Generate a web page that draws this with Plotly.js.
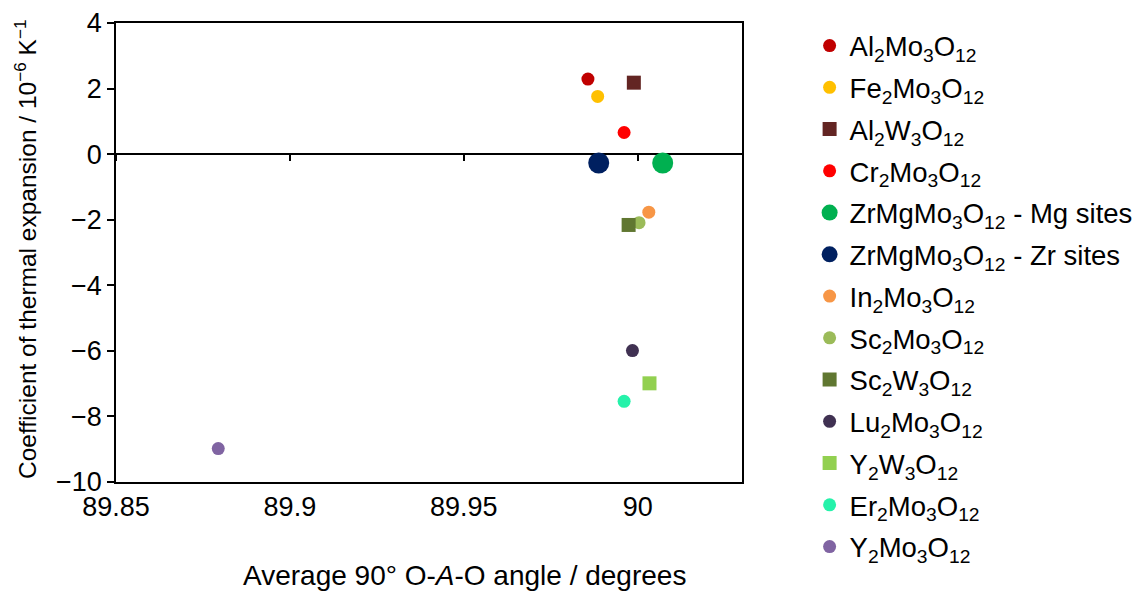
<!DOCTYPE html>
<html>
<head>
<meta charset="utf-8">
<script src="https://cdn.plot.ly/plotly-3.0.1.min.js"></script>
<style>html,body{margin:0;padding:0;background:#fff;}#chart{width:1133px;height:596px;}</style>
</head>
<body>
<div id="chart"></div>
<script>
// Series data
const names = [
  "Al<sub>2</sub>Mo<sub>3</sub>O<sub>12</sub>",
  "Fe<sub>2</sub>Mo<sub>3</sub>O<sub>12</sub>",
  "Al<sub>2</sub>W<sub>3</sub>O<sub>12</sub>",
  "Cr<sub>2</sub>Mo<sub>3</sub>O<sub>12</sub>",
  "ZrMgMo<sub>3</sub>O<sub>12</sub> - Mg sites",
  "ZrMgMo<sub>3</sub>O<sub>12</sub> - Zr sites",
  "In<sub>2</sub>Mo<sub>3</sub>O<sub>12</sub>",
  "Sc<sub>2</sub>Mo<sub>3</sub>O<sub>12</sub>",
  "Sc<sub>2</sub>W<sub>3</sub>O<sub>12</sub>",
  "Lu<sub>2</sub>Mo<sub>3</sub>O<sub>12</sub>",
  "Y<sub>2</sub>W<sub>3</sub>O<sub>12</sub>",
  "Er<sub>2</sub>Mo<sub>3</sub>O<sub>12</sub>",
  "Y<sub>2</sub>Mo<sub>3</sub>O<sub>12</sub>"
];
const angles = [89.9857, 89.9885, 89.9989, 89.9961, 90.0072, 89.9888, 90.0032, 90.0004, 89.9974, 89.9985, 90.0034, 89.9961, 89.8794];
const cte    = [2.29, 1.76, 2.18, 0.66, -0.27, -0.27, -1.77, -2.09, -2.16, -5.99, -6.99, -7.54, -8.98];
const colors = ["#C00000", "#FFC000", "#632523", "#FF0000", "#00B050", "#002060", "#F79646", "#9BBB59", "#607731", "#403152", "#92D050", "#25F2AA", "#8064A2"];
const symbols = ["circle", "circle", "square", "circle", "circle", "circle", "circle", "circle", "square", "circle", "square", "circle", "circle"];
const sizes = [13, 13, 14, 13, 21, 21, 13, 13, 14, 13, 14, 13, 13];
const xTicks = [89.85, 89.9, 89.95, 90];
const yTicks = [-10, -8, -6, -4, -2, 0, 2, 4];

const FONT = "Liberation Sans, Arial, sans-serif";

const traces = names.map((n, i) => ({
  type: "scatter",
  mode: "markers",
  name: n,
  legendgroup: "g" + i,
  x: [angles[i]],
  y: [cte[i]],
  marker: {color: colors[i], symbol: symbols[i], size: sizes[i], line: {width: 0}},
  hoverinfo: "name+x+y"
}));
// helper trace for the tick marks along y = 0
traces.push({type: "scatter", mode: "markers", x: [], y: [], xaxis: "x2", showlegend: false, hoverinfo: "skip"});

const layout = {
  width: 1133, height: 596,
  paper_bgcolor: "#ffffff", plot_bgcolor: "#ffffff",
  font: {family: FONT, color: "#000000", size: 24},
  margin: {l: 116, r: 391, t: 23, b: 114, pad: 0, autoexpand: false},
  showlegend: true,
  legend: {
    x: 1.108, xanchor: "left", y: 1.004, yanchor: "top",
    traceorder: "grouped", tracegroupgap: 3, maxheight: 590,
    font: {family: FONT, size: 27.5, color: "#000"},
    bgcolor: "rgba(0,0,0,0)", borderwidth: 0, itemsizing: "trace"
  },
  xaxis: {
    range: [89.85, 90.03], tickvals: xTicks, ticktext: xTicks.map(String),
    showgrid: false, zeroline: false,
    showline: true, mirror: true, linecolor: "#000", linewidth: 1.5,
    ticks: "", tickfont: {family: FONT, size: 27, color: "#000"},
    fixedrange: true
  },
  xaxis2: {
    overlaying: "x", matches: "x", anchor: "free", position: 10 / 14,
    tickvals: xTicks, ticks: "outside", ticklen: 6, tickwidth: 1.5, tickcolor: "#000",
    showticklabels: false, showline: false, showgrid: false, zeroline: false
  },
  yaxis: {
    range: [-10, 4], tickvals: yTicks,
    showgrid: false,
    zeroline: true, zerolinecolor: "#000", zerolinewidth: 2,
    showline: true, mirror: true, linecolor: "#000", linewidth: 1.5,
    ticks: "outside", ticklen: 7, tickwidth: 1.5, tickcolor: "#000",
    tickfont: {family: FONT, size: 27, color: "#000"},
    fixedrange: true
  },
  annotations: [{
    xref: "paper", yref: "paper", x: (464 - 116) / 626, y: -(575 - 482) / 459,
    xanchor: "center", yanchor: "middle", showarrow: false,
    text: "Average 90° O-<i>A</i>-O angle / degrees",
    font: {family: FONT, size: 28, color: "#000"}
  }, {
    xref: "paper", yref: "paper", x: (25 - 116) / 626, y: (482 - 250) / 459,
    xanchor: "center", yanchor: "middle", showarrow: false, textangle: -90,
    text: "Coefficient of thermal expansion / 10<sup>−6</sup> K<sup>−1</sup>",
    font: {family: FONT, size: 24.5, color: "#000"}
  }]
};

Plotly.newPlot("chart", traces, layout, {displayModeBar: false, staticPlot: false});
</script>
</body>
</html>
